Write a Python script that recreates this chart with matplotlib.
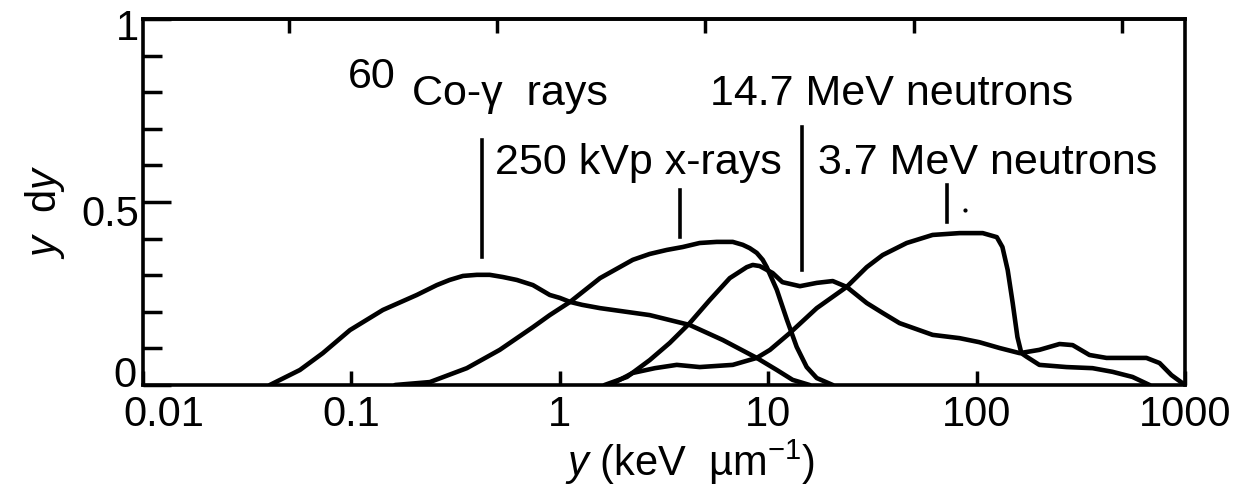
import matplotlib
matplotlib.use("Agg")
import matplotlib.pyplot as plt
import matplotlib.transforms as mtransforms
from matplotlib.ticker import NullLocator

plt.rcParams['font.family'] = ['Liberation Sans', 'DejaVu Sans']
plt.rcParams['mathtext.fontset'] = 'custom'
plt.rcParams['mathtext.rm'] = 'Liberation Sans'
plt.rcParams['mathtext.it'] = 'Liberation Sans:italic'
plt.rcParams['mathtext.sf'] = 'Liberation Sans'

# lineal energy y (keV/um) and y d(y)
co60_x = [0.0406, 0.0566, 0.0729, 0.0984, 0.1416, 0.206, 0.257, 0.296, 0.343, 0.400,
          0.461, 0.533, 0.622, 0.743, 0.895, 1.0, 1.12, 1.28, 1.56, 2.70, 4.20, 6.05,
          8.81, 11.0, 13.1, 15.8]
co60_y = [0, 0.041, 0.087, 0.150, 0.205, 0.246, 0.273, 0.287, 0.298, 0.301,
          0.301, 0.295, 0.287, 0.273, 0.246, 0.238, 0.227, 0.219, 0.210, 0.191, 0.164,
          0.123, 0.074, 0.041, 0.014, 0]

kvp_x = [0.162, 0.238, 0.358, 0.515, 0.743, 0.895, 1.12, 1.56, 2.24, 2.70, 3.26, 3.89,
         4.69, 5.66, 6.76, 7.55, 8.15, 8.81, 9.41, 9.84, 11.0, 12.3, 13.7, 15.3, 17.1,
         20.4]
kvp_y = [0, 0.008, 0.046, 0.096, 0.158, 0.191, 0.227, 0.292, 0.342, 0.358, 0.369, 0.377,
         0.388, 0.391, 0.391, 0.383, 0.374, 0.361, 0.342, 0.322, 0.260, 0.178, 0.104,
         0.049, 0.019, 0]

n147_x = [1.64, 2.10, 2.70, 3.37, 4.20, 5.24, 6.54, 7.89, 8.43, 9.10, 10.5, 11.7, 14.2,
          17.1, 20.4, 23.8, 29.7, 35.4, 42.7, 61.5, 82.8, 103, 129, 161, 200, 250,
          289, 348, 420, 653, 755, 861, 1000]
n147_y = [0, 0.022, 0.068, 0.115, 0.169, 0.232, 0.292, 0.322, 0.328, 0.325, 0.306, 0.281,
          0.270, 0.279, 0.284, 0.268, 0.224, 0.197, 0.169, 0.137, 0.128, 0.117, 0.101,
          0.087, 0.096, 0.112, 0.109, 0.082, 0.074, 0.074, 0.060, 0.027, 0]

n37_x = [1.74, 2.24, 2.86, 3.64, 4.69, 6.76, 8.81, 10.2, 12.7, 17.1, 23.8, 29.7, 35.4,
         46.2, 61.5, 82.8, 107, 125, 133, 141, 149, 157, 164, 174, 200, 270, 360,
         449, 560, 676]
n37_y = [0, 0.033, 0.046, 0.055, 0.049, 0.055, 0.074, 0.096, 0.142, 0.210, 0.268,
         0.322, 0.355, 0.388, 0.410, 0.415, 0.415, 0.404, 0.377, 0.314, 0.224, 0.131,
         0.087, 0.077, 0.055, 0.049, 0.046, 0.036, 0.022, 0]

# pointer lines under the labels: x, bottom, top
pointer_x = [0.423, 3.77, 14.5, 71.8]
pointer_lo = [0.350, 0.404, 0.314, 0.445]
pointer_hi = [0.669, 0.533, 0.705, 0.546]

fig = plt.figure(figsize=(12.56, 4.86), dpi=100)
ax = fig.add_axes([143 / 1256, 101 / 486, 1042 / 1256, 366 / 486])

lw = 3.3
for xs, ys in [(co60_x, co60_y), (kvp_x, kvp_y), (n147_x, n147_y), (n37_x, n37_y)]:
    ax.plot(xs, ys, color='black', lw=lw, solid_joinstyle='round', solid_capstyle='round')

for px, lo, hi in zip(pointer_x, pointer_lo, pointer_hi):
    ax.plot([px, px], [lo, hi], color='black', lw=2.6)
ax.plot([87.5], [0.478], 'o', color='black', ms=2)

fs = 31
ax.text(0.096, 0.811, '60', fontsize=fs, va='baseline', ha='left')
ax.text(0.195, 0.765, 'Co-\u03b3  rays', fontsize=fs, va='baseline', ha='left')
ax.text(5.24, 0.765, '14.7 MeV neutrons', fontsize=fs, va='baseline', ha='left')
ax.text(0.488, 0.577, '250 kVp x-rays', fontsize=fs, va='baseline', ha='left')
ax.text(17.3, 0.577, '3.7 MeV neutrons', fontsize=fs, va='baseline', ha='left')

ax.set_xscale('log')
ax.set_xlim(0.01, 1000)
ax.set_ylim(0, 1)
ax.set_xticks([0.01, 0.1, 1, 10, 100, 1000], labels=['0.01', '0.1', '1', '10', '100', '1000'])
ax.xaxis.set_minor_locator(NullLocator())
ax.set_yticks([0, 0.5, 1], labels=['0', '0.5', '1'])
ax.set_yticks([0.1, 0.2, 0.3, 0.4, 0.6, 0.7, 0.8, 0.9], minor=True)
ax.tick_params(axis='x', which='major', direction='in', length=10, width=2.5,
               pad=7, labelsize=30, top=False)
ax.tick_params(axis='y', which='major', direction='in', length=20, width=2.5,
               pad=3, labelsize=30, right=False)
ax.tick_params(axis='y', which='minor', direction='in', length=14, width=2.5, right=False)
for s in ax.spines.values():
    s.set_linewidth(2.6)

sec = ax.secondary_xaxis('top')
sec.set_xticks([0.05, 0.5, 5, 50, 500])
sec.xaxis.set_minor_locator(NullLocator())
sec.tick_params(direction='in', length=10, width=2.5, labeltop=False)
sec.spines['top'].set_linewidth(2.6)

# nudge a few tick labels the way the printed figure has them
def nudge(label, dx, dy):
    off = mtransforms.ScaledTranslation(dx, dy, fig.dpi_scale_trans)
    label.set_transform(label.get_transform() + off)

nudge(ax.xaxis.get_major_ticks()[0].label1, 0.21, 0)
yt = ax.yaxis.get_major_ticks()
nudge(yt[0].label1, -0.02, 0.14)
nudge(yt[1].label1, 0, -0.08)
nudge(yt[2].label1, 0, -0.05)

fig.text(690 / 1256, 1 - 462 / 486, '$y$ (keV  \u00b5m$^{-1}$)',
         fontsize=30, ha='center', va='center')
fig.text(45 / 1256, 1 - 212 / 486, r'$y$  d$y$', fontsize=30, rotation=90,
         ha='center', va='center')

fig.savefig('out.png', dpi=100)
